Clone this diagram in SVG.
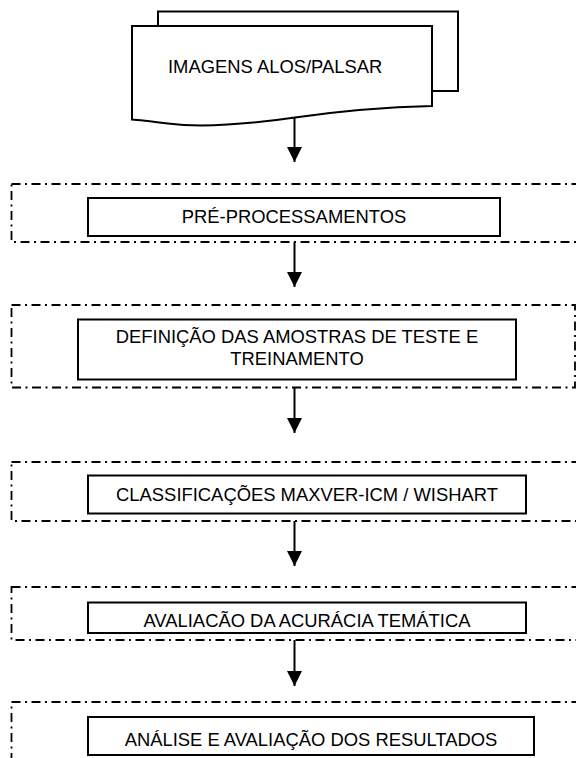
<svg xmlns="http://www.w3.org/2000/svg" width="576" height="758" viewBox="0 0 576 758">
<style>
  .bg{fill:#ffffff}
  .solid{fill:#ffffff;stroke:#000;stroke-width:2}
  .group{fill:none;stroke:#000;stroke-width:1.8;stroke-dasharray:9 4.5 2 4.5}
  .lbl{font-family:"Liberation Sans",Arial,sans-serif;font-size:18.4px;fill:#000}
  .mid{text-anchor:middle}
  .conn{stroke:#000;stroke-width:2;fill:none}
</style>
<defs>
  <marker id="ah" markerUnits="userSpaceOnUse" markerWidth="16" markerHeight="16" refX="15" refY="7.5" orient="auto">
    <path d="M0,0 L15,7.5 L0,15 Z" fill="#000"/>
  </marker>
</defs>
<rect class="bg" x="0" y="0" width="576" height="758"/>

<g id="n-imagens">
  <rect class="solid" x="158" y="11.5" width="300" height="79.5"/>
  <path class="solid" d="M132,26 H432 V106 C390,107 340,111 295,117.5 C250,124 205,128.5 168,123.5 C152,121.5 140,120 132,119.5 Z"/>
  <text class="lbl" x="168" y="72.5">IMAGENS ALOS/PALSAR</text>
</g>

<g id="n-pre">
  <rect class="group" x="11.5" y="184" width="600" height="58"/>
  <rect class="solid" x="88" y="198" width="412" height="38"/>
  <text class="lbl mid" x="294" y="223">PRÉ-PROCESSAMENTOS</text>
</g>

<g id="n-amostras">
  <rect class="group" x="11.5" y="305" width="563.5" height="82.5"/>
  <rect class="solid" x="78" y="319.5" width="438" height="60"/>
  <text class="lbl mid" x="297" y="343">DEFINIÇÃO DAS AMOSTRAS DE TESTE E</text>
  <text class="lbl mid" x="297" y="364.5">TREINAMENTO</text>
</g>

<g id="n-classif">
  <rect class="group" x="11.5" y="462" width="600" height="59"/>
  <rect class="solid" x="88" y="475.5" width="438" height="38"/>
  <text class="lbl mid" x="307" y="500.5">CLASSIFICAÇÕES MAXVER-ICM / WISHART</text>
</g>

<g id="n-acuracia">
  <rect class="group" x="11.5" y="587" width="600" height="53"/>
  <rect class="solid" x="88" y="602.5" width="438" height="30.5"/>
  <text class="lbl mid" x="307" y="627">AVALIACÃO DA ACURÁCIA TEMÁTICA</text>
</g>

<g id="n-resultados">
  <rect class="group" x="11.5" y="702" width="600" height="80"/>
  <rect class="solid" x="88" y="717" width="446" height="38"/>
  <text class="lbl mid" x="311" y="746">ANÁLISE E AVALIAÇÃO DOS RESULTADOS</text>
</g>

<g id="connectors">
  <line class="conn" x1="294.5" y1="117.5" x2="294.5" y2="162" marker-end="url(#ah)"/>
  <line class="conn" x1="294.5" y1="242" x2="294.5" y2="287" marker-end="url(#ah)"/>
  <line class="conn" x1="294.5" y1="387.5" x2="294.5" y2="433" marker-end="url(#ah)"/>
  <line class="conn" x1="294.5" y1="521" x2="294.5" y2="566" marker-end="url(#ah)"/>
  <line class="conn" x1="294.5" y1="640" x2="294.5" y2="686" marker-end="url(#ah)"/>
</g>
</svg>
